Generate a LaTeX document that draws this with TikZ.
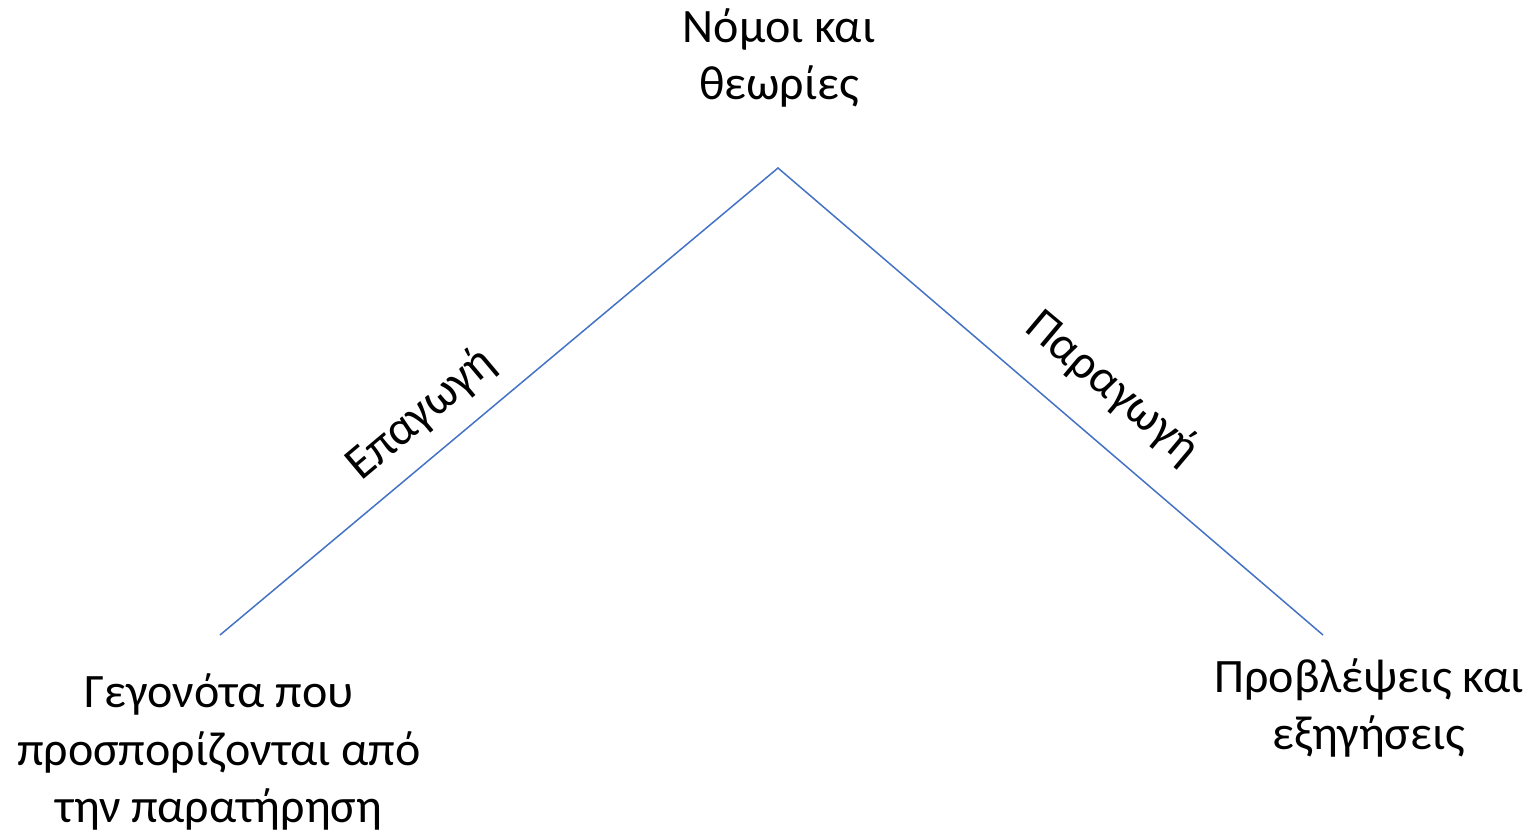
\documentclass[tikz,border=0pt]{standalone}
\usepackage{fontspec}
\setmainfont{Carlito}
\definecolor{lineblue}{HTML}{4472C4}
\begin{document}
\begin{tikzpicture}[x=1pt,y=-1pt,
  lbl/.style={font=\fontsize{48}{57.5}\selectfont, align=center, inner sep=0pt},
  edge/.style={draw=lineblue, line width=1.5pt}]
\useasboundingbox (0,0) rectangle (1536,833);
\coordinate (apex) at (778,168);
\coordinate (left) at (220,635);
\coordinate (right) at (1323,635);
\draw[edge] (left) -- (apex) -- (right);
\node[lbl] (top) at (779,58) {Νόμοι και\\θεωρίες};
\node[lbl] (facts) at (219,752) {Γεγονότα που\\προσπορίζονται από\\την παρατήρηση};
\node[lbl] (pred) at (1369,708) {Προβλέψεις και\\εξηγήσεις};
\node[lbl, rotate=40] (ind) at (421,414) {Επαγωγή};
\node[lbl, rotate=-40] (ded) at (1112,388) {Παραγωγή};
\end{tikzpicture}
\end{document}
